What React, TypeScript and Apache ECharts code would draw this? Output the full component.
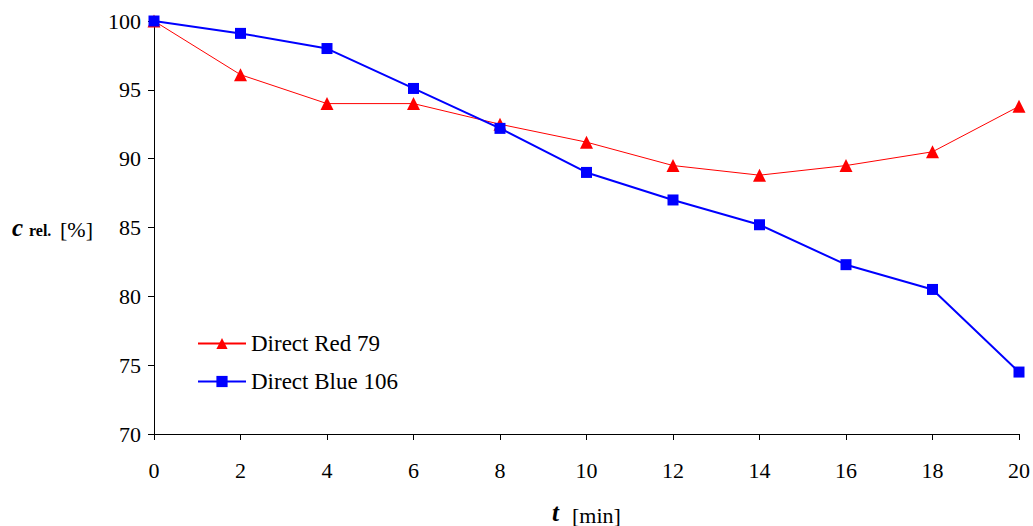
import React, { useEffect, useRef } from "react";
import * as echarts from "echarts";

const times = [0, 2, 4, 6, 8, 10, 12, 14, 16, 18, 20];
const redValues = [100, 96.1, 94.0, 94.0, 92.5, 91.2, 89.5, 88.8, 89.5, 90.5, 93.8];
const blueValues = [100, 99.1, 98.0, 95.1, 92.2, 89.0, 87.0, 85.2, 82.3, 80.5, 74.5];
const seriesNames = ["Direct Red 79", "Direct Blue 106"];

const FONT = "Liberation Serif, Times New Roman, Times, serif";

export default function App() {
  const ref = useRef<HTMLDivElement>(null);
  useEffect(() => {
    if (!ref.current) return;
    const chart = echarts.init(ref.current, null, { renderer: "svg" });
    const txt = (text: string, x: number, y: number, size: number, bold: boolean, italic: boolean) => ({
      type: "text",
      x,
      y,
      style: {
        text,
        fontFamily: FONT,
        fontSize: size,
        fontWeight: bold ? "bold" : "normal",
        fontStyle: italic ? "italic" : "normal",
        fill: "#000",
        verticalAlign: "bottom",
      },
    });
    const lbl = { fontFamily: FONT, fontSize: 22, color: "#000", fontWeight: "normal", fontStyle: "normal" };
    chart.setOption({
      animation: false,
      backgroundColor: "#ffffff",
      textStyle: { fontFamily: FONT, fontWeight: "normal", fontStyle: "normal" },
      grid: { left: 154, right: 14, top: 21, bottom: 92 },
      legend: {
        orient: "vertical",
        left: 192,
        top: 327,
        itemWidth: 48,
        itemHeight: 14,
        itemGap: 15,
        textStyle: { ...lbl, fontSize: 23 },
        data: seriesNames,
      },
      xAxis: {
        type: "value",
        min: 0,
        max: 20,
        interval: 2,
        axisLine: { lineStyle: { color: "#000", width: 1 } },
        axisTick: { inside: false, length: 6, lineStyle: { color: "#000" } },
        axisLabel: { ...lbl, margin: 25 },
        splitLine: { show: false },
      },
      yAxis: {
        type: "value",
        min: 70,
        max: 100,
        interval: 5,
        axisLine: { show: true, lineStyle: { color: "#000", width: 1 } },
        axisTick: { show: true, inside: false, length: 6, lineStyle: { color: "#000" } },
        axisLabel: { ...lbl, margin: 13 },
        splitLine: { show: false },
      },
      graphic: [
        txt("c", 12, 240, 25, true, true),
        txt("rel.", 29, 238, 16, true, false),
        txt("[%]", 60, 240, 22, false, false),
        txt("t", 552, 525, 25, true, true),
        txt("[min]", 572, 526, 22, false, false),
      ],
      series: [
        {
          name: seriesNames[0],
          type: "line",
          data: times.map((t, i) => [t, redValues[i]]),
          symbol: "triangle",
          symbolSize: 13,
          itemStyle: { color: "#ff0000" },
          lineStyle: { color: "#ff0000", width: 1 },
          z: 2,
        },
        {
          name: seriesNames[1],
          type: "line",
          data: times.map((t, i) => [t, blueValues[i]]),
          symbol: "rect",
          symbolSize: 11,
          itemStyle: { color: "#0000ff" },
          lineStyle: { color: "#0000ff", width: 2 },
          z: 3,
        },
      ],
    });
    return () => chart.dispose();
  }, []);
  return (
    <div
      ref={ref}
      style={{ position: "fixed", left: 0, top: 0, width: 1033, height: 526 }}
    />
  );
}
